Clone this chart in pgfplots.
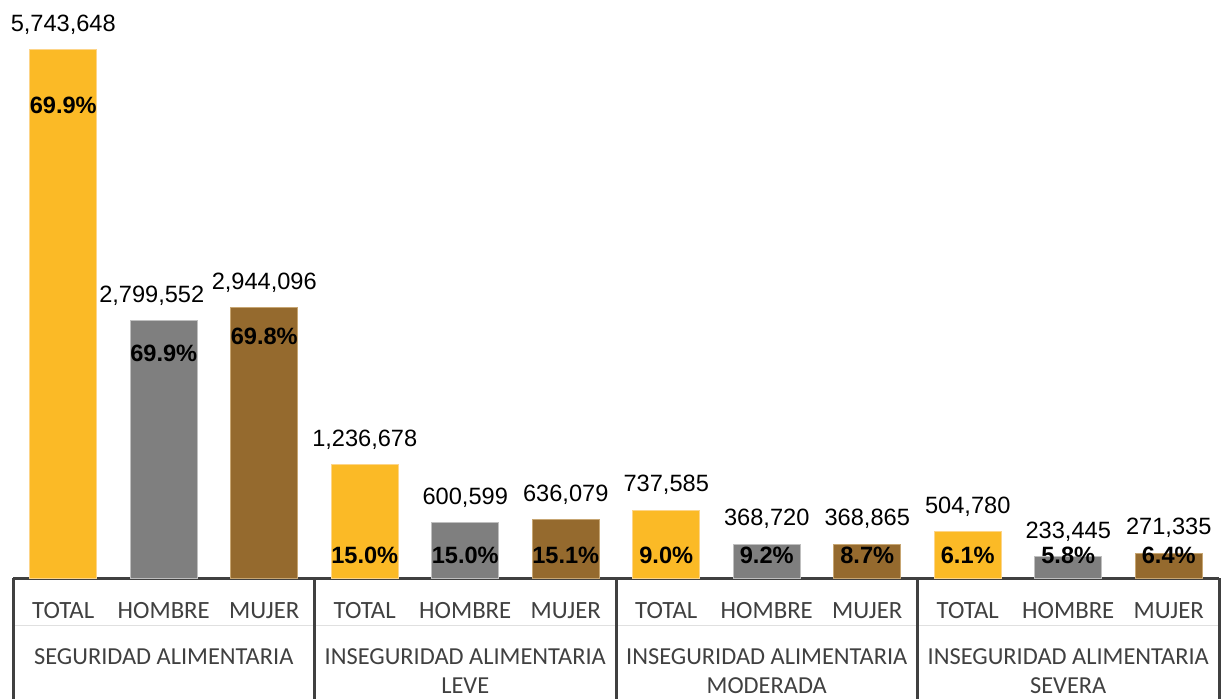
\documentclass[border=0pt]{standalone}
\usepackage{pgfplots}
\pgfplotsset{compat=1.18}
\usepackage{pgfplotstable}
\usepackage{fontspec}
\setmainfont{Liberation Sans}
\newfontfamily\calfont{Carlito}

\definecolor{amarillo}{HTML}{FBBA26}
\definecolor{amarilloborde}{HTML}{FDD589}
\definecolor{gris}{HTML}{7F7F7F}
\definecolor{grisborde}{HTML}{BFBFBF}
\definecolor{cafe}{HTML}{956A2E}
\definecolor{cafeborde}{HTML}{C7A673}
\definecolor{linea}{HTML}{404040}

% valores por categoria
\pgfplotstableread{
x y lab
0 5743648 5,743,648
3 1236678 1,236,678
6 737585 737,585
9 504780 504,780
}\total
\pgfplotstableread{
x y lab dx
1 2799552 2,799,552 -6
4 600599 600,599 0
7 368720 368,720 0
10 233445 233,445 0
}\hombre
\pgfplotstableread{
x y lab
2 2944096 2,944,096
5 636079 636,079
8 368865 368,865
11 271335 271,335
}\mujer
% porcentajes (y = posicion de la etiqueta)
\pgfplotstableread{
x y pct
0 5145300 69.9
1 2447600 69.9
2 2632500 69.8
3 250000 15.0
4 250000 15.0
5 250000 15.1
6 250000 9.0
7 250000 9.2
8 250000 8.7
9 250000 6.1
10 250000 5.8
11 250000 6.4
}\pcts

\begin{document}
\begin{tikzpicture}
\useasboundingbox (-6.5pt,-60pt) rectangle (604pt,289pt);
\begin{axis}[
  at={(0,0)}, anchor=south west,
  scale only axis, width=603pt, height=289pt,
  xmin=-0.5, xmax=11.5, ymin=0, ymax=6287532,
  axis x line*=bottom, axis y line=none,
  x axis line style={draw=linea, line width=1.5pt, -},
  xtick={0,...,11}, major tick length=0pt,
  xticklabels={TOTAL,HOMBRE,MUJER,TOTAL,HOMBRE,MUJER,TOTAL,HOMBRE,MUJER,TOTAL,HOMBRE,MUJER},
  xticklabel style={anchor=center, yshift=-16.5pt, font=\calfont\fontsize{12.4}{14}\selectfont, text=linea},
  clip=false,
  every node near coord/.append style={anchor=center, font=\fontsize{11.8}{14}\selectfont, text=black},
]
\addplot[ybar, bar width=33.5pt, bar shift=0pt, fill=amarillo, draw=amarilloborde, line width=0.5pt,
  point meta=explicit symbolic, nodes near coords={\pgfplotspointmeta},
  every node near coord/.append style={yshift=12.5pt}]
  table[x=x, y=y, meta=lab] {\total};
\addplot[ybar, bar width=33.5pt, bar shift=0pt, fill=gris, draw=grisborde, line width=0.5pt,
  point meta=explicit symbolic, nodes near coords={\pgfplotspointmeta},
  visualization depends on={\thisrow{dx} \as \dx},
  every node near coord/.append style={yshift=12.5pt, xshift=\dx pt}]
  table[x=x, y=y, meta=lab] {\hombre};
\addplot[ybar, bar width=33.5pt, bar shift=0pt, fill=cafe, draw=cafeborde, line width=0.5pt,
  point meta=explicit symbolic, nodes near coords={\pgfplotspointmeta},
  every node near coord/.append style={yshift=12.5pt}]
  table[x=x, y=y, meta=lab] {\mujer};
\addplot[draw=none, mark=none,
  point meta=explicit symbolic, nodes near coords={\bfseries\pgfplotspointmeta\%}]
  table[x=x, y=y, meta=pct] {\pcts};

% rejilla de categorias
\draw[black!12, line width=0.5pt] (axis cs:-0.5,0) ++(0pt,-23.5pt) -- ++(603pt,0pt);
\pgfplotsinvokeforeach{-0.5,2.5,5.5,8.5,11.5}{
  \draw[linea, line width=1.5pt] (axis cs:#1,0) -- ++(0pt,-61pt);
}

\begin{scope}[every node/.style={font=\calfont\fontsize{12.2}{14}\selectfont, text=linea, anchor=center}]
\node at (axis cs:1,0) [yshift=-39.5pt] {SEGURIDAD ALIMENTARIA};
\node at (axis cs:4,0) [yshift=-39.5pt] {INSEGURIDAD ALIMENTARIA};
\node at (axis cs:4,0) [yshift=-54pt] {LEVE};
\node at (axis cs:7,0) [yshift=-39.5pt] {INSEGURIDAD ALIMENTARIA};
\node at (axis cs:7,0) [yshift=-54pt] {MODERADA};
\node at (axis cs:10,0) [yshift=-39.5pt] {INSEGURIDAD ALIMENTARIA};
\node at (axis cs:10,0) [yshift=-54pt] {SEVERA};
\end{scope}
\end{axis}
\end{tikzpicture}
\end{document}
